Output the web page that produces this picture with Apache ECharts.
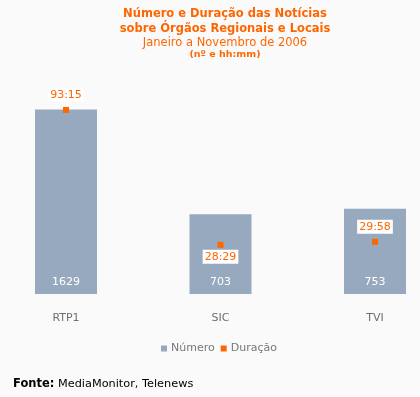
<!DOCTYPE html>
<html>
<head>
<meta charset="utf-8">
<script src="https://cdn.jsdelivr.net/npm/echarts@6/dist/echarts.min.js"></script>
<style>
  html, body { margin: 0; padding: 0; background: #fafafa; }
  #chart { width: 420px; height: 397px; }
</style>
</head>
<body>
<div id="chart"></div>
<script>
const categories = ["RTP1", "SIC", "TVI"];
const numero = [1629, 703, 753];
const duracao = ["93:15", "28:29", "29:58"];
const duracaoLabelPos = ["top", "bottom", "top"];

function toMinutes(hhmm) {
  const [h, m] = hhmm.split(":").map(Number);
  return h * 60 + m;
}

const font = "DejaVu Sans, Verdana, sans-serif";
const orange = "#ff6600";
const barColor = "#97a9bf";

const chart = echarts.init(document.getElementById("chart"));

const durData = duracao.map((d, i) => ({
  value: toMinutes(d),
  label: {
    position: duracaoLabelPos[i],
    distance: duracaoLabelPos[i] === "top" ? 5 : 2
  }
}));

const options = {
  animation: false,
  backgroundColor: "#fafafa",
  title: [
    { text: "Número e Duração das Notícias", left: 220, top: 3, textAlign: "center",
      textStyle: { color: orange, fontSize: 11.5, fontWeight: "bold", fontFamily: font } },
    { text: "sobre Órgãos Regionais e Locais", left: 220, top: 18, textAlign: "center",
      textStyle: { color: orange, fontSize: 11.5, fontWeight: "bold", fontFamily: font } },
    { text: "Janeiro a Novembro de 2006", left: 220, top: 32, textAlign: "center",
      textStyle: { color: orange, fontSize: 11.5, fontWeight: "normal", fontFamily: font } },
    { text: "(nº e hh:mm)", left: 220, top: 45, textAlign: "center",
      textStyle: { color: orange, fontSize: 9.5, fontWeight: "bold", fontFamily: font } }
  ],
  legend: {
    data: ["Número", "Duração"],
    left: 156,
    top: 338,
    icon: "rect",
    itemWidth: 6,
    itemHeight: 6,
    itemGap: 6,
    textStyle: { color: "#777", fontSize: 11, fontFamily: font, padding: [0, 0, 0, -1] }
  },
  grid: { left: 66, right: 45, top: 90, bottom: 103 },
  xAxis: {
    type: "category",
    data: categories,
    boundaryGap: false,
    axisLine: { show: false },
    axisTick: { show: false },
    axisLabel: { color: "#6e6e6e", fontSize: 11, fontFamily: font, margin: 19 }
  },
  yAxis: [
    { type: "value", min: 0, max: 1800, show: false },
    { type: "value", min: 294, max: 6170, show: false }
  ],
  series: [
    {
      name: "Número",
      type: "bar",
      data: numero,
      barWidth: 62,
      clip: false,
      itemStyle: { color: barColor },
      label: {
        show: true,
        position: "insideBottom",
        distance: 6,
        color: "#fff",
        fontSize: 11,
        fontFamily: font
      }
    },
    {
      name: "Duração",
      type: "scatter",
      yAxisIndex: 1,
      data: durData,
      symbol: "rect",
      symbolSize: 6,
      clip: false,
      itemStyle: { color: orange, opacity: 1 },
      label: {
        show: true,
        formatter: (p) => duracao[p.dataIndex],
        color: orange,
        fontSize: 11,
        fontFamily: font,
        backgroundColor: "#fff",
        padding: [2, 2, 1, 2]
      }
    }
  ],
  graphic: [
    {
      type: "text",
      left: 13,
      top: 378,
      style: {
        text: "{b|Fonte:} MediaMonitor, Telenews",
        fill: "#000",
        fontSize: 11.3,
        fontFamily: font,
        rich: { b: { fontWeight: "bold", fontSize: 11.5, fontFamily: font, fill: "#000" } }
      }
    }
  ]
};

chart.setOption(options);
window.addEventListener("resize", chart.resize);
</script>
</body>
</html>
